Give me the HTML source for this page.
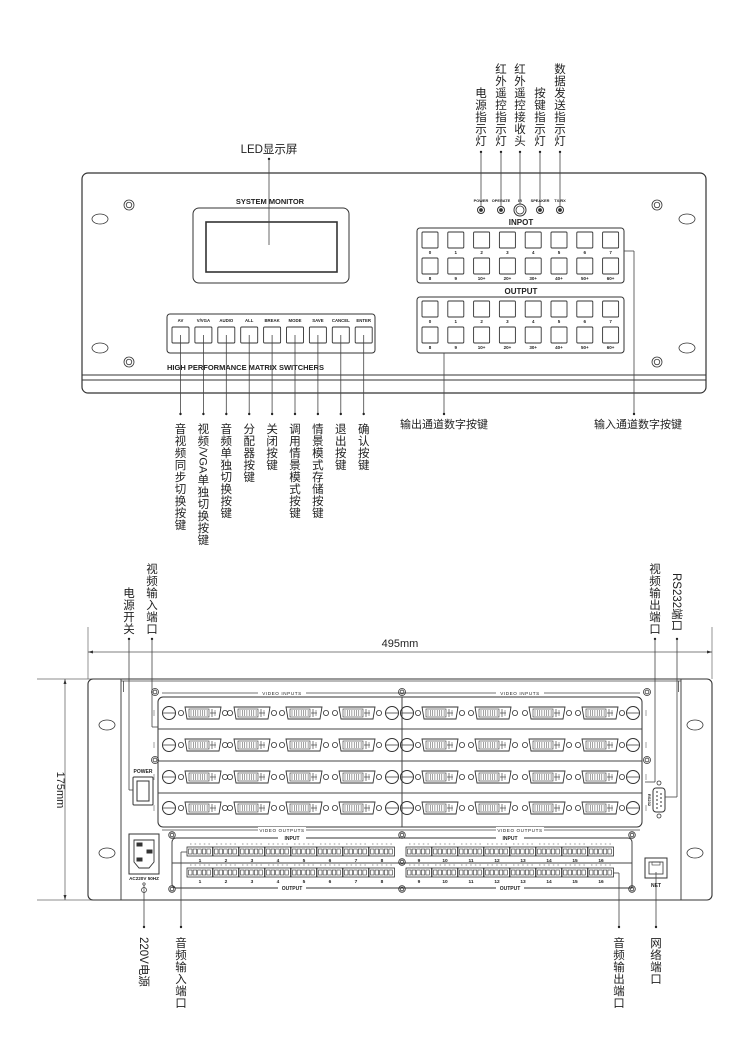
<!DOCTYPE html>
<html><head><meta charset="utf-8"><style>
html,body{margin:0;padding:0;background:#fff;}
svg{display:block;}
text{font-family:"Liberation Sans","Noto Sans CJK SC",sans-serif;fill:#222;}
.b{font-weight:bold;}
</style></head><body>
<svg id="s" width="750" height="1062" viewBox="0 0 750 1062" xmlns="http://www.w3.org/2000/svg"></svg>
<script>
var o=[];
function L(x1,y1,x2,y2,w,c){o.push('<line x1="'+x1+'" y1="'+y1+'" x2="'+x2+'" y2="'+y2+'" stroke="'+(c||'#444')+'" stroke-width="'+(w||0.8)+'"/>');}
function R(x,y,w,h,rx,sw,fill){o.push('<rect x="'+x+'" y="'+y+'" width="'+w+'" height="'+h+'" rx="'+(rx||0)+'" fill="'+(fill||'none')+'" stroke="#333" stroke-width="'+(sw||0.8)+'"/>');}
function C(x,y,r,sw,fill){o.push('<circle cx="'+x+'" cy="'+y+'" r="'+r+'" fill="'+(fill||'none')+'" stroke="#333" stroke-width="'+(sw||0.8)+'"/>');}
function E(x,y,rx,ry){o.push('<ellipse cx="'+x+'" cy="'+y+'" rx="'+rx+'" ry="'+ry+'" fill="none" stroke="#333" stroke-width="0.8"/>');}
function T(x,y,s,fs,cls,anchor,extra){o.push('<text x="'+x+'" y="'+y+'" font-size="'+fs+'" text-anchor="'+(anchor||'middle')+'" '+(cls?'class="'+cls+'"':'')+' '+(extra||'')+'>'+s+'</text>');}
function D(x,y){o.push('<circle cx="'+x+'" cy="'+y+'" r="1.2" fill="#222"/>');}
var P=12;
function V(x,y0,s){var a=Array.from(s);for(var i=0;i<a.length;i++)T(x,y0+i*P+10,a[i],11.5);}
function Vr(x,y0,s){T(x-4,y0,s,11.5,'','start','transform="rotate(90 '+(x-4)+' '+y0+')"');}
function screw(x,y,r){C(x,y,r||5,0.8);C(x,y,(r||5)*0.55,0.8);}

/* ===== FRONT PANEL ===== */
R(82,173,624,220,6,1.2);
L(82,375,706,375,1,'#333');L(82,380,706,380,1,'#333');
E(100,219,8,5);E(100,348,8,5);E(687,219,8,5);E(687,348,8,5);
screw(129,205);screw(129,362);screw(657,205);screw(657,362);
T(270,204,'SYSTEM MONITOR',7.5,'b');
R(193,208,156,75,6,1);R(206,222,131,50,0,1.6);
R(167,314,208,39,3,1);
var bl=['AV','V/VGA','AUDIO','ALL','BREAK','MODE','SAVE','CANCEL','ENTER'];
for(var i=0;i<9;i++){var cx=180.5+i*22.9;T(cx,322,bl[i],4.3,'b');R(cx-8.5,327,17,16,1,0.9);}
T(167,370,'HIGH PERFORMANCE  MATRIX SWITCHERS',7.5,'b','start');
var ll=['POWER','OPERATE','IR','SPEAKER','TX/RX'],lx=[481,501,520,540,560];
for(var i=0;i<5;i++){T(lx[i],202,ll[i],3.9,'b');}
[481,501,540,560].forEach(function(x){C(x,210,3.5,1);C(x,210,1.5,0,'#333');});
C(520,210,6,1);C(520,210,4,0.8);
T(521,225,'INPOT',8,'b');T(521,294,'OUTPUT',8,'b');
R(417,228,207,55,3,1);R(417,297,207,56,3,1);
var n1=['0','1','2','3','4','5','6','7'],n2=['8','9','10+','20+','30+','40+','50+','60+'];
[[232,254,258,280],[301,323,327,349]].forEach(function(r){
 for(var i=0;i<8;i++){var x=422+i*25.8;R(x,r[0],16,16,1,0.9);T(x+8,r[1],n1[i],4.5,'b');R(x,r[2],16,16,1,0.9);T(x+8,r[3],n2[i],4.5,'b');}
});
var tt=['电源指示灯','红外遥控指示灯','红外遥控接收头','按键指示灯','数据发送指示灯'];
for(var i=0;i<5;i++){var s=tt[i];V(lx[i],s.length==5?87:63,s);D(lx[i],152);L(lx[i],152,lx[i],i==2?204:206);}
T(269,153,'LED显示屏',11.5);D(269,159);L(269,159,269,245);
var bt=['音视频同步切换按键','视频/VGA单独切换按键','音频单独切换按键','分配器按键','关闭按键','调用情景模式按键','情景模式存储按键','退出按键','确认按键'];
for(var i=0;i<9;i++){var cx=180.5+i*22.9;L(cx,335,cx,414);D(cx,414);
 if(i==1){V(cx,423,'视频');T(cx-4,447,'/VGA',11,'','start','transform="rotate(90 '+(cx-4)+' 447)"');V(cx,474,'单独切换按键');}
 else V(cx,423,bt[i]);}
L(444,353,444,414);D(444,414);T(444,428,'输出通道数字按键',11,'');
L(624,251,634,251);L(634,251,634,414);D(634,414);T(638,428,'输入通道数字按键',11,'');

/* ===== REAR ===== */
L(88,627,88,679,0.7,'#666');L(712,627,712,679,0.7,'#666');
L(88,652,712,652,0.7,'#555');o.push('<path d="M88 652 l5 -1.5 v3z M712 652 l-5 -1.5 v3z" fill="#333"/>');
T(400,647,'495mm',11);
L(37,679,190,679,0.7,'#666');L(37,900,190,900,0.7,'#666');
L(65,679,65,900,0.7,'#555');o.push('<path d="M65 679 l-1.5 5 h3z M65 900 l-1.5 -5 h3z" fill="#333"/>');
T(57,790,'175mm',11,'','middle','transform="rotate(90 57 790)"');
R(88,679,624,221,5,1.1);
L(121,681,681,681,0.8);
L(121,679,121,900,1);L(681,679,681,900,1);L(123.5,681,123.5,692,0.8);L(678.5,681,678.5,692,0.8);
E(107,725,8,5);E(107,853,8,5);E(695,725,8,5);E(695,853,8,5);
R(158,697,484,130,5,1);
L(402,697,402,827,1);L(158,729,642,729,0.9);L(158,761,642,761,1.1);L(158,793,642,793,0.9);
L(162,693,640,693,0.7);L(162,830,640,830,0.7);
[[282,693,'VIDEO INPUTS'],[520,693,'VIDEO INPUTS'],[282,830,'VIDEO OUTPUTS'],[520,830,'VIDEO OUTPUTS']].forEach(function(a){
 o.push('<rect x="'+(a[0]-24)+'" y="'+(a[1]-3)+'" width="48" height="6" fill="#fff"/>');T(a[0],a[1]+1.8,a[2],4.6,'','middle','letter-spacing="0.6"');});
screw(155,692,3.5);screw(402,692,3.5);screw(647,692,3.5);screw(155,760,3.5);screw(647,760,3.5);
var rows=[713,745,777,808],cxs=[203,252,304,357,440,493,547,600];
rows.forEach(function(y){
 [169,392,407,633].forEach(function(x){C(x,y,6.5,1);L(x-6.5,y,x+6.5,y,0.8);});
 cxs.forEach(function(x){
  C(x-22,y,2.6,0.8);C(x+22,y,2.6,0.8);
  o.push('<path d="M'+(x-18)+' '+(y-6)+' h36 l-2 12 h-32z" fill="none" stroke="#333" stroke-width="0.9"/>');
  R(x-14,y-4,20,8,0,0.6);
  for(var k=0;k<8;k++)L(x-12+k*2.3,y-3,x-12+k*2.3,y+3,0.5);
  L(x+9,y-4,x+9,y+4,0.7);L(x+7,y,x+13,y,0.7);L(x+12,y-3,x+12,y+3,0.5);
 });
 L(154,y-3,154,y+3,0.5);L(646,y-3,646,y+3,0.5);
});
T(143,773,'POWER',5,'b');R(133,777,20,28,1,1);R(137,781,12,20,0,1);
R(129,834,30,40,0,1);
o.push('<path d="M134 840 h20 v22 l-5 6 h-10 l-5 -6z" fill="none" stroke="#333" stroke-width="0.9"/>');
R(137,843,5,3,0,1,'#333');R(137,858,5,3,0,1,'#333');R(147,850,5,3,0,1,'#333');
T(144,880,'AC220V  50HZ',4.6,'b');C(144,884,1.2,0.7);C(144,890,2.5,0.7);L(144,885,144,892,0.7);
o.push('<path d="M176 838 H628 a4 4 0 0 1 4 4 V888 H176 a4 4 0 0 1 -4 -4 V842 a4 4 0 0 1 4 -4z" fill="none" stroke="#333" stroke-width="0.9"/>');
L(172,863,632,863,0.9);
[[292,838,'INPUT'],[510,838,'INPUT'],[292,888,'OUTPUT'],[510,888,'OUTPUT']].forEach(function(a){
 o.push('<rect x="'+(a[0]-14)+'" y="'+(a[1]-3)+'" width="28" height="6" fill="#fff"/>');T(a[0],a[1]+2,a[2],5,'b');});
[[172,835],[402,835],[632,835],[402,862],[172,889],[402,889],[632,889]].forEach(function(p){screw(p[0],p[1],3.3);});
function term(x0,y,nums){
 for(var j=0;j<8;j++){var x=x0+j*26;R(x,y,25.5,9,0,0.8);
  for(var k=0;k<5;k++){R(x+1.5+k*4.6,y+2,3.5,5,0,0.6);}
  for(var k=0;k<5;k++)L(x+3+k*4.6,y-3,x+4.5+k*4.6,y-3,0.6,'#555');
  T(x+13,y+15,nums[j],4.8,'b');}
}
term(187,847,['1','2','3','4','5','6','7','8']);term(406,847,['9','10','11','12','13','14','15','16']);
term(187,868,['1','2','3','4','5','6','7','8']);term(406,868,['9','10','11','12','13','14','15','16']);
R(645,858,22,20,0,1);R(649,862,14,12,0,0.8);R(652,862,8,3,0,0.6);T(656,887,'NET',5,'b');
R(653,788,12,24,3,1);for(var k=0;k<5;k++)C(657,792+k*4,0.6,0.5,'#333');for(var k=0;k<4;k++)C(661,794+k*4,0.6,0.5,'#333');
C(659,783,2,0.8);C(659,816,2,0.8);
T(648,800,'RS232',4,'b','middle','transform="rotate(90 648 800)"');
V(129,587,'电源开关');D(129,639);L(129,639,129,790);L(129,790,133,790);
V(152,563,'视频输入端口');D(152,639);L(152,639,152,727);L(152,727,158,727);
V(655,563,'视频输出端口');D(655,639);L(655,639,655,782);L(655,782,645,782);
Vr(677,573,'RS232端口');D(677,639);L(677,639,677,797);L(677,797,665,797);
L(144,892,144,927);D(144,927);Vr(144,937,'220V电源');
L(181,852,187,852);L(181,852,181,927);D(181,927);V(181,937,'音频输入端口');
L(613,873,619,873);L(619,873,619,927);D(619,927);V(619,937,'音频输出端口');
L(656,872,656,927);D(656,927);V(656,937,'网络端口');
document.getElementById('s').innerHTML=o.join('');
</script>
</body></html>
